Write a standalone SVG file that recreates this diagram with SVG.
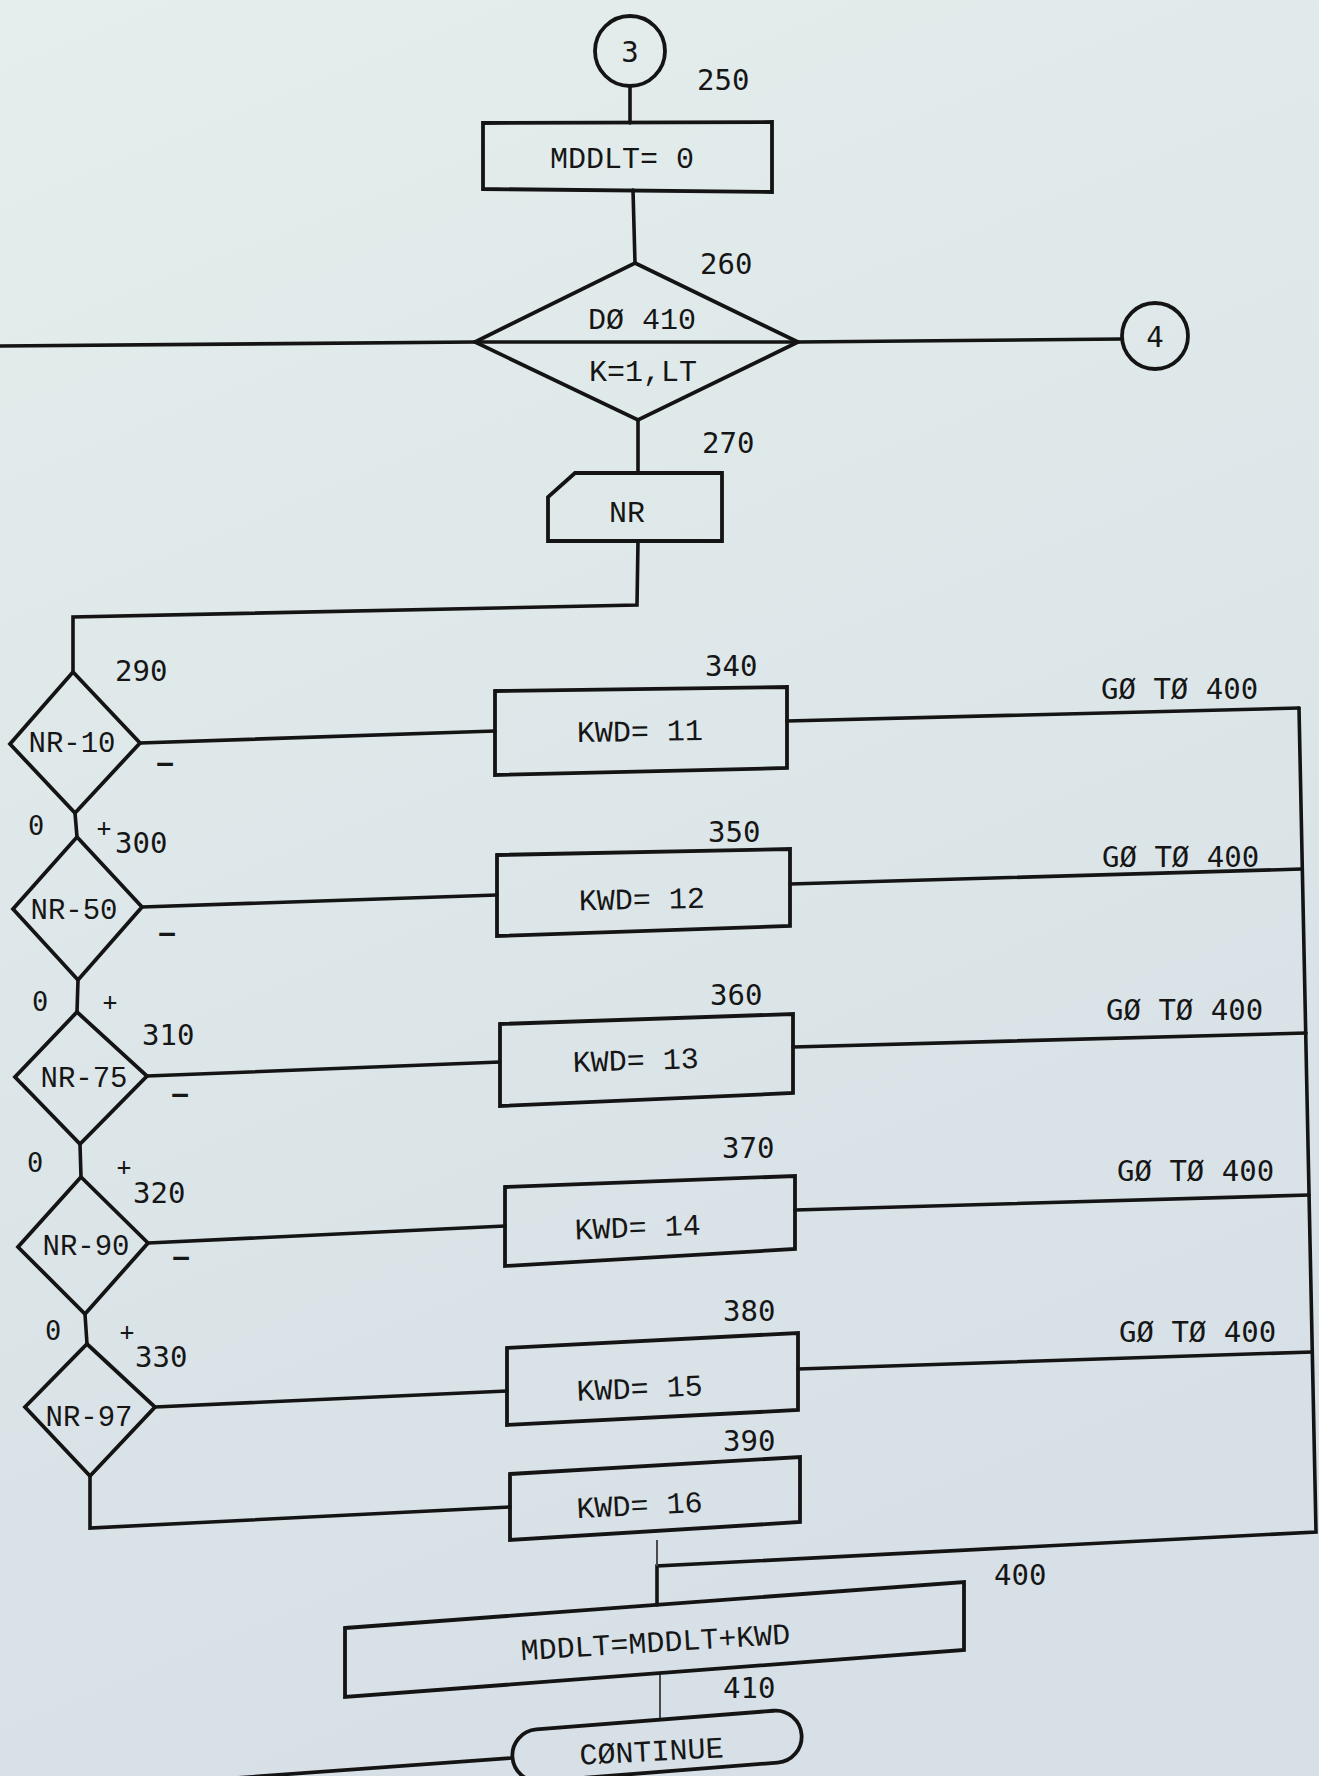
<svg xmlns="http://www.w3.org/2000/svg" width="1319" height="1776" viewBox="0 0 1319 1776">
<defs>
<linearGradient id="paper" x1="0" y1="0" x2="0.3" y2="1">
<stop offset="0" stop-color="#e5eeec"/>
<stop offset="1" stop-color="#d6e0e6"/>
</linearGradient>
<style>
.ln{fill:none;stroke:#141414;stroke-width:3.6;stroke-linejoin:miter;stroke-linecap:round}
.faint{fill:none;stroke:#4a4a4a;stroke-width:2}
.shape{fill:none;stroke:#141414;stroke-width:3.8;stroke-linejoin:miter}
.tx{font-family:"Liberation Mono","Courier New",monospace;font-size:30px;fill:#161616;text-anchor:middle}
.dt{font-family:"Liberation Mono","Courier New",monospace;font-size:29px;fill:#161616;text-anchor:middle}
.num{font-family:"DejaVu Sans Mono",monospace;font-size:29px;fill:#161616}
.sm{font-family:"DejaVu Sans Mono",monospace;font-size:27px;fill:#161616}
.pl{font-family:"DejaVu Sans Mono",monospace;font-size:24px;fill:#161616;text-anchor:middle}
.sg{font-family:"DejaVu Sans Mono",monospace;font-size:26px;font-weight:bold;fill:#161616;text-anchor:middle}
</style>
</defs>
<rect x="0" y="0" width="1319" height="1776" fill="url(#paper)"/>

<g id="connectors">
<polyline class="ln" points="630,86 630,123"/>
<polyline class="ln" points="633,190 635,263"/>
<polyline class="ln" points="0,346 475,342"/>
<polyline class="ln" points="798,342 1122,339"/>
<polyline class="ln" points="638,420 638,473"/>
<polyline class="ln" points="638,541 637,605 73,617 73,672"/>
<polyline class="ln" points="75,813 77,837"/>
<polyline class="ln" points="78,980 77,1012"/>
<polyline class="ln" points="80,1144 81,1177"/>
<polyline class="ln" points="85,1314 87,1344"/>
<polyline class="ln" points="90,1476 90,1528 510,1507"/>
<polyline class="ln" points="140,743 495,731"/>
<polyline class="ln" points="142,907 497,895"/>
<polyline class="ln" points="147,1076 500,1062"/>
<polyline class="ln" points="148,1243 505,1226"/>
<polyline class="ln" points="155,1407 507,1391"/>
<polyline class="ln" points="787,721 1299,708"/>
<polyline class="ln" points="790,884 1302,869"/>
<polyline class="ln" points="793,1047 1306,1033"/>
<polyline class="ln" points="795,1210 1309,1195"/>
<polyline class="ln" points="798,1369 1312,1352"/>
<polyline class="ln" points="1299,708 1316,1532 657,1566 657,1605"/>
<polyline class="faint" points="657,1540 657,1566"/>
<polyline class="faint" points="660,1674 660,1720"/>
<polyline class="ln" points="512,1758 0,1795"/>
</g>

<g id="connector-3">
<circle class="shape" cx="630" cy="51" r="35"/>
<text class="num" x="630" y="62" text-anchor="middle">3</text>
</g>

<g id="node-250">
<polygon class="shape" points="483,123 772,122 772,192 483,189"/>
<text class="tx" x="622" y="168">MDDLT= 0</text>
<text class="num" x="697" y="90">250</text>
</g>

<g id="node-260">
<polygon class="shape" points="635,263 798,342 638,420 475,342"/>
<line class="ln" x1="475" y1="342" x2="798" y2="342"/>
<text class="tx" x="642" y="329">DØ 410</text>
<text class="tx" x="643" y="381">K=1,LT</text>
<text class="num" x="700" y="274">260</text>
</g>

<g id="connector-4">
<circle class="shape" cx="1155" cy="336" r="33"/>
<text class="num" x="1155" y="347" text-anchor="middle">4</text>
</g>

<g id="node-270">
<polygon class="shape" points="575,473 722,473 722,541 548,541 548,497"/>
<text class="tx" x="627" y="522">NR</text>
<text class="num" x="702" y="453">270</text>
</g>

<g id="node-290">
<polygon class="shape" points="73,672 140,743 75,813 10,744"/>
<text class="dt" x="72" y="752">NR-10</text>
<text class="num" x="115" y="681">290</text>
<text class="sg" x="165" y="772">–</text>
<text class="sm" x="28" y="835">0</text>
<text class="pl" x="104" y="836">+</text>
</g>

<g id="node-300">
<polygon class="shape" points="77,837 142,907 78,980 13,909"/>
<text class="dt" x="74" y="919">NR-50</text>
<text class="num" x="115" y="853">300</text>
<text class="sg" x="167" y="942">–</text>
<text class="sm" x="32" y="1011">0</text>
<text class="pl" x="110" y="1010">+</text>
</g>

<g id="node-310">
<polygon class="shape" points="77,1012 147,1076 80,1144 15,1077"/>
<text class="dt" x="84" y="1087">NR-75</text>
<text class="num" x="142" y="1045">310</text>
<text class="sg" x="180" y="1103">–</text>
<text class="sm" x="27" y="1172">0</text>
<text class="pl" x="124" y="1175">+</text>
</g>

<g id="node-320">
<polygon class="shape" points="81,1177 148,1243 85,1314 18,1247"/>
<text class="dt" x="86" y="1255">NR-90</text>
<text class="num" x="133" y="1203">320</text>
<text class="sg" x="181" y="1266">–</text>
<text class="sm" x="45" y="1340">0</text>
<text class="pl" x="127" y="1340">+</text>
</g>

<g id="node-330">
<polygon class="shape" points="87,1344 155,1407 90,1476 25,1407"/>
<text class="dt" x="89" y="1426">NR-97</text>
<text class="num" x="135" y="1367">330</text>
</g>

<g id="node-340">
<polygon class="shape" points="495,691 787,687 787,768 495,775"/>
<text class="tx" x="640" y="741" transform="rotate(-0.8 640 741)">KWD= 11</text>
<text class="num" x="705" y="676">340</text>
</g>

<g id="node-350">
<polygon class="shape" points="497,855 790,849 790,926 497,936"/>
<text class="tx" x="642" y="909" transform="rotate(-1.2 642 909)">KWD= 12</text>
<text class="num" x="708" y="842">350</text>
</g>

<g id="node-360">
<polygon class="shape" points="500,1024 793,1014 793,1093 500,1106"/>
<text class="tx" x="636" y="1070" transform="rotate(-1.8 636 1070)">KWD= 13</text>
<text class="num" x="710" y="1005">360</text>
</g>

<g id="node-370">
<polygon class="shape" points="505,1187 795,1176 795,1249 505,1266"/>
<text class="tx" x="638" y="1237" transform="rotate(-2.2 638 1237)">KWD= 14</text>
<text class="num" x="722" y="1158">370</text>
</g>

<g id="node-380">
<polygon class="shape" points="507,1348 798,1333 798,1410 507,1425"/>
<text class="tx" x="640" y="1398" transform="rotate(-2.6 640 1398)">KWD= 15</text>
<text class="num" x="723" y="1321">380</text>
</g>

<g id="node-390">
<polygon class="shape" points="510,1474 800,1457 800,1522 510,1540"/>
<text class="tx" x="640" y="1515" transform="rotate(-3 640 1515)">KWD= 16</text>
<text class="num" x="723" y="1451">390</text>
</g>

<g id="node-400">
<polygon class="shape" points="345,1628 964,1582 964,1650 345,1697"/>
<text class="tx" x="656" y="1652" transform="rotate(-3.5 656 1652)">MDDLT=MDDLT+KWD</text>
<text class="num" x="994" y="1585">400</text>
</g>

<g id="node-410">
<rect class="shape" x="512" y="1720" width="290" height="52" rx="26" transform="rotate(-4.5 657 1746)"/>
<text class="tx" x="652" y="1761" transform="rotate(-3 652 1761)">CØNTINUE</text>
<text class="num" x="723" y="1698">410</text>
</g>

<g id="goto-labels">
<text class="num" x="1101" y="699">GØ TØ 400</text>
<text class="num" x="1102" y="867">GØ TØ 400</text>
<text class="num" x="1106" y="1020">GØ TØ 400</text>
<text class="num" x="1117" y="1181">GØ TØ 400</text>
<text class="num" x="1119" y="1342">GØ TØ 400</text>
</g>
</svg>
